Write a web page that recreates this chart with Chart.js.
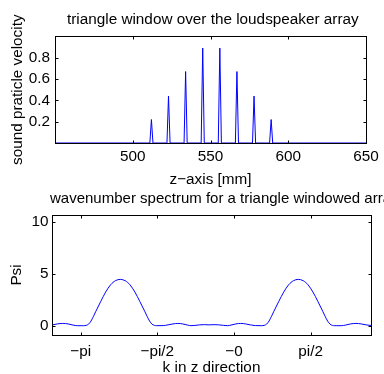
<!DOCTYPE html>
<html>
<head>
<meta charset="utf-8">
<script src="https://cdn.jsdelivr.net/npm/chart.js@4/dist/chart.umd.min.js"></script>
<style>
    body { margin: 0; background: #fff; width: 384px; height: 374px; overflow: hidden; position: relative; }
    canvas { position: absolute; left: 0; }
    #topChart { top: 0; }
    #bottomChart { top: 188px; }
</style>
</head>
<body>
<canvas id="topChart" width="384" height="188"></canvas>
<canvas id="bottomChart" width="384" height="186"></canvas>
<script>
// loudspeaker positions [mm] and their (triangle windowed) velocities
const speakerZ = [512, 523, 534, 545, 556, 567, 578, 589];
const speakerVelocity = [0.22, 0.44, 0.67, 0.89, 0.89, 0.67, 0.44, 0.22];
const zTicks = [500, 550, 600, 650];
const velocityTicks = [0.2, 0.4, 0.6, 0.8];

// wavenumber spectrum
const kz = [
    -3.72, -3.62, -3.51, -3.40, -3.30, -3.21, -3.12, -3.08, -3.03, -2.98,
    -2.93, -2.88, -2.83, -2.73, -2.63, -2.53, -2.48, -2.43, -2.33, -2.23,
    -2.18, -2.13, -2.03, -1.93, -1.83, -1.78, -1.73, -1.68, -1.63, -1.58,
    -1.45, -1.35, -1.25, -1.15, -1.05, -0.95, -0.88, -0.80, -0.70, -0.60,
    -0.51, -0.41, -0.31, -0.21, -0.13, -0.06, 0.04, 0.14, 0.24, 0.34,
    0.44, 0.57, 0.62, 0.67, 0.72, 0.77, 0.82, 0.92, 1.02, 1.12,
    1.17, 1.22, 1.32, 1.42, 1.47, 1.52, 1.62, 1.72, 1.82, 1.87,
    1.92, 1.97, 2.02, 2.07, 2.11, 2.20, 2.29, 2.39, 2.50, 2.61,
    2.71, 2.81
];
const psi = [
    0.08, 0.17, 0.22, 0.17, 0.06, 0.00, 0.00, 0.00, 0.03, 0.15,
    0.45, 0.90, 1.40, 2.35, 3.25, 3.95, 4.18, 4.35, 4.48, 4.35,
    4.18, 3.95, 3.25, 2.35, 1.40, 0.90, 0.45, 0.15, 0.03, 0.00,
    0.01, 0.08, 0.17, 0.22, 0.17, 0.06, 0.00, 0.03, 0.08, 0.10,
    0.08, 0.10, 0.08, 0.03, 0.00, 0.06, 0.17, 0.22, 0.17, 0.08,
    0.01, 0.00, 0.03, 0.15, 0.45, 0.90, 1.40, 2.35, 3.25, 3.95,
    4.18, 4.35, 4.48, 4.35, 4.18, 3.95, 3.25, 2.35, 1.40, 0.90,
    0.45, 0.15, 0.03, 0.00, 0.00, 0.00, 0.06, 0.17, 0.22, 0.17,
    0.08, 0.02
];
const kTicks = [-Math.PI, -Math.PI / 2, 0, Math.PI / 2];
const kTickLabels = ['\u2212pi', '\u2212pi/2', '\u22120', 'pi/2'];
const psiTicks = [0, 5, 10];

Chart.defaults.font.family = '"Liberation Sans", Arial, sans-serif';
Chart.defaults.font.size = 15.3;
Chart.defaults.color = '#000';

// matlab style box with inward ticks on all four sides
const axesBox = {
    id: 'axesBox',
    afterLayout(chart, args, opts) {
        if (opts.titleLeft != null && chart.titleBlock) {
            chart.titleBlock.left = opts.titleLeft;
            chart.titleBlock.right = opts.titleLeft + 400;
        }
    },
    afterDatasetsDraw(chart) {
        const { ctx, chartArea: a, scales: { x, y } } = chart;
        const left = Math.round(a.left) + 0.5;
        const right = Math.round(a.right) + 0.5;
        const top = Math.round(a.top) + 0.5;
        const bottom = Math.round(a.bottom) + 0.5;
        const len = 3;
        ctx.save();
        ctx.strokeStyle = '#000';
        ctx.lineWidth = 1;
        ctx.beginPath();
        x.ticks.forEach(t => {
            const px = Math.round(x.getPixelForValue(t.value)) + 0.5;
            ctx.moveTo(px, bottom); ctx.lineTo(px, bottom - len);
            ctx.moveTo(px, top); ctx.lineTo(px, top + len);
        });
        y.ticks.forEach(t => {
            const py = Math.round(y.getPixelForValue(t.value)) + 0.5;
            ctx.moveTo(left, py); ctx.lineTo(left + len, py);
            ctx.moveTo(right, py); ctx.lineTo(right - len, py);
        });
        ctx.stroke();
        ctx.strokeRect(left, top, right - left, bottom - top);
        ctx.restore();
    }
};

function fixedTicks(values) {
    return scale => { scale.ticks = values.map(v => ({ value: v })); };
}

function renderArrayChart() {
    const points = [{ x: 450, y: 0 }];
    speakerZ.forEach((z, i) => {
        points.push({ x: z - 1, y: 0 }, { x: z, y: speakerVelocity[i] }, { x: z + 1, y: 0 });
    });
    points.push({ x: 650, y: 0 });

    new Chart(document.getElementById('topChart'), {
        type: 'line',
        data: {
            datasets: [{
                data: points,
                borderColor: '#0000ff',
                borderWidth: 1,
                pointRadius: 0,
                tension: 0
            }]
        },
        options: {
            responsive: false,
            animation: false,
            devicePixelRatio: 1,
            layout: { padding: { left: 0, right: 18, top: 0, bottom: 0 } },
            plugins: {
                legend: { display: false },
                tooltip: { enabled: false },
                title: {
                    display: true,
                    text: 'triangle window over the loudspeaker array',
                    align: 'start',
                    font: { size: 15.3, weight: 'normal' },
                    padding: { top: 11, bottom: 7 }
                },
                axesBox: { titleLeft: 67 }
            },
            scales: {
                x: {
                    type: 'linear',
                    min: 450,
                    max: 650,
                    afterBuildTicks: fixedTicks(zTicks),
                    afterFit: scale => { scale.height = 45; },
                    grid: { display: false, drawTicks: false },
                    border: { display: false },
                    ticks: { padding: 5, autoSkip: false, maxRotation: 0, callback: v => String(v) },
                    title: { display: true, text: 'z\u2212axis [mm]', padding: { top: 0, bottom: -1 } }
                },
                y: {
                    min: 0,
                    max: 1,
                    afterBuildTicks: fixedTicks(velocityTicks),
                    afterFit: scale => { scale.width = 55; },
                    grid: { display: false, drawTicks: false },
                    border: { display: false },
                    ticks: { padding: 5, callback: v => v.toFixed(1) },
                    title: { display: true, text: 'sound praticle velocity', padding: { top: 8.5, bottom: 0 } }
                }
            }
        },
        plugins: [axesBox]
    });
}

function renderSpectrumChart() {
    const points = kz.map((k, i) => ({ x: k, y: psi[i] }));

    new Chart(document.getElementById('bottomChart'), {
        type: 'line',
        data: {
            datasets: [{
                data: points,
                borderColor: '#0000ff',
                borderWidth: 1,
                pointRadius: 0,
                cubicInterpolationMode: 'monotone'
            }]
        },
        options: {
            responsive: false,
            animation: false,
            devicePixelRatio: 1,
            layout: { padding: { left: 0, right: 13, top: 0, bottom: 0 } },
            plugins: {
                legend: { display: false },
                tooltip: { enabled: false },
                title: {
                    display: true,
                    text: 'wavenumber spectrum for a triangle windowed array',
                    align: 'start',
                    font: { size: 15, weight: 'normal' },
                    padding: { top: 2, bottom: 7 }
                },
                axesBox: { titleLeft: 50 }
            },
            scales: {
                x: {
                    type: 'linear',
                    min: -3.73,
                    max: 2.81,
                    afterBuildTicks: fixedTicks(kTicks),
                    afterFit: scale => { scale.height = 39; },
                    grid: { display: false, drawTicks: false },
                    border: { display: false },
                    ticks: { padding: 7.5, autoSkip: false, maxRotation: 0, callback: (v, i) => kTickLabels[i] },
                    title: { display: true, text: 'k in z direction', padding: { top: 0, bottom: -3 } }
                },
                y: {
                    min: -0.9,
                    max: 10.7,
                    afterBuildTicks: fixedTicks(psiTicks),
                    afterFit: scale => { scale.width = 52; },
                    grid: { display: false, drawTicks: false },
                    border: { display: false },
                    ticks: { padding: 3.5, callback: v => String(v) },
                    title: { display: true, text: 'Psi', padding: { top: 8, bottom: 0 } }
                }
            }
        },
        plugins: [axesBox]
    });
}

document.addEventListener('DOMContentLoaded', () => {
    renderArrayChart();
    renderSpectrumChart();
});
</script>
</body>
</html>
